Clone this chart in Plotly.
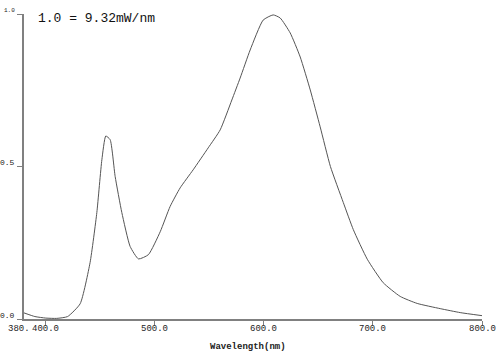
import plotly.graph_objects as go

wavelength = [380, 390, 400, 410, 420, 431.5, 440.6, 446.8, 451.4, 455, 459, 463.6, 469.7,
              477.3, 485, 494.1, 504.9, 514, 523.2, 535.1, 548.9, 559.9, 570.6, 578.2,
              587.4, 599.3, 608.5, 614.9, 624.1, 633.3, 642.5, 651.6, 661, 672.8,
              682, 694.8, 709.4, 725, 740.6, 761.7, 780, 800]
intensity = [0.02, 0.008, 0.003, 0.002, 0.008, 0.05, 0.185, 0.349, 0.522, 0.60, 0.588, 0.467,
             0.349, 0.238, 0.197, 0.211, 0.286, 0.369, 0.43, 0.489, 0.561, 0.62, 0.718, 0.79,
             0.882, 0.98, 0.997, 0.987, 0.938, 0.859, 0.751, 0.63, 0.50, 0.382,
             0.293, 0.196, 0.119, 0.074, 0.051, 0.034, 0.021, 0.011]

x_ticks = [380, 400, 500, 600, 700, 800]
x_tick_text = ["380.", "400.0", "500.0", "600.0", "700.0", "800.0"]
y_ticks = [0.0, 0.5, 1.0]
y_tick_text = ["0.0", "0.5", "1.0"]

mono = "Liberation Mono"
label_color = "#222222"

fig = go.Figure()
fig.add_trace(go.Scatter(x=wavelength, y=intensity, mode="lines",
                         line=dict(color="#555555", width=1, shape="spline", smoothing=0.5),
                         hoverinfo="skip", showlegend=False))

fig.update_layout(
    width=500, height=353,
    margin=dict(l=24, r=18, t=14, b=34),
    paper_bgcolor="white", plot_bgcolor="white",
    xaxis=dict(range=[380, 800], showgrid=False, zeroline=False,
               showline=True, linecolor="#808080", linewidth=1.5,
               ticks="outside", ticklen=4, tickcolor="#808080", tickwidth=1,
               tickvals=x_ticks[1:], showticklabels=False),
    yaxis=dict(range=[0, 1], showgrid=False, zeroline=False,
               showline=True, linecolor="#808080", linewidth=1.5,
               ticks="outside", ticklen=5, tickcolor="#808080", tickwidth=1,
               tickvals=y_ticks, showticklabels=False),
)

# y tick labels (drawn slightly above the ticks as in the reference)
for v, t in zip(y_ticks, y_tick_text):
    fig.add_annotation(x=0, xref="paper", y=v, yref="y", text=t, showarrow=False,
                       xanchor="right", xshift=-7, yshift=4,
                       font=dict(family=mono, size=8 if v < 1 else 6, color=label_color))

# x tick labels
for v, t in zip(x_ticks, x_tick_text):
    fig.add_annotation(x=v, xref="x", y=0, yref="paper", text=t, showarrow=False,
                       xanchor="right" if v == 380 else "center", yanchor="middle",
                       xshift=8 if v == 380 else 0, yshift=-10,
                       font=dict(family=mono, size=9, color=label_color))

fig.add_annotation(x=380 + (248 - 24) / 458 * 420, xref="x", y=0, yref="paper",
                   text="<b>Wavelength(nm)</b>", showarrow=False,
                   xanchor="center", yanchor="middle", yshift=-28,
                   font=dict(family=mono, size=9, color=label_color))

fig.add_annotation(x=0, xref="paper", y=1, yref="paper", text="1.0 = 9.32mW/nm",
                   showarrow=False, xanchor="left", yanchor="middle", xshift=12, yshift=-4,
                   font=dict(family=mono, size=13, color="#111111"))

fig.write_html("out.html")
